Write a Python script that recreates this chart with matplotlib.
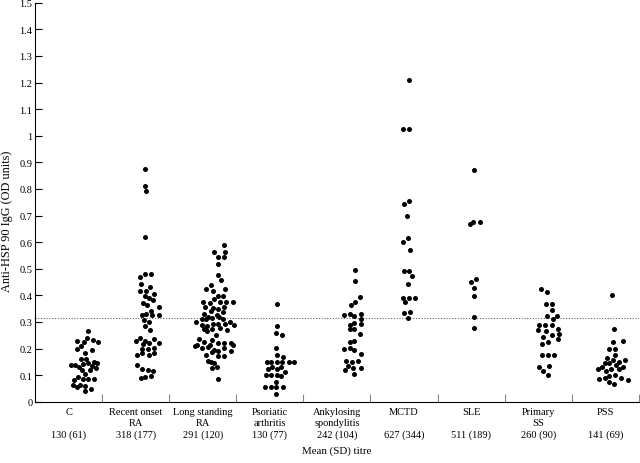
import matplotlib.pyplot as plt
import numpy as np

categories = ["C", "Recent onset\nRA", "Long standing\nRA", "Psoriatic\narthritis",
              "Ankylosing\nspondylitis", "MCTD", "SLE", "Primary\nSS", "PSS"]
titres = ["130 (61)", "318 (177)", "291 (120)", "130 (77)", "242 (104)",
          "627 (344)", "511 (189)", "260 (90)", "141 (69)"]
cutoff = 0.315

# each group: sideways offset of a dot (in category widths) and its OD value
c_dx = [.29, .27, .13, .23, .36, .44, .19, .13, .35, .25, .18, .26, .37, .03, .10, .21, .29, .42,
        .15, .35, .20, .31, .40, .25, .14, .08, .22, .29, .37, .06, .17, .25, .13, .33, .25]
c_y = [.265, .238, .228, .225, .231, .225, .210, .197, .195, .185, .160, .160, .151, .137, .137,
       .142, .144, .144, .132, .135, .120, .120, .125, .104, .092, .082, .085, .085, .086, .064,
       .064, .061, .054, .047, .039]

recent_dx = [.13, .14, .15, .14, .13, .23, .06, .08, .21, .15, .07, .27, .13, .19, .11, .26,
             .16, .34, .23, .15, .09, .24, .35, .12, .20, .13, .21, .01, .06, .14, .19, .27,
             .34, .11, .10, .18, .27, .02, .10, .20, .27, .02, .09, .18, .25, .08, .14, .23]
recent_y = [.875, .810, .792, .618, .481, .481, .468, .441, .433, .418, .416, .404, .397, .390,
            .372, .381, .365, .355, .343, .328, .325, .327, .325, .306, .300, .285, .271, .228,
            .238, .228, .222, .235, .220, .218, .200, .200, .203, .177, .185, .176, .185, .137,
            .122, .121, .116, .089, .094, .096]

long_dx = [.31, .17, .33, .23, .32, .22, .22, .27, .12, .04,
           .15, .33, .23, .30, .17, .00, .10, .25, .34, .45,
           .03, .15, .22, .32, .12, .30, .02, .21, .08, .24,
           -.01, .05, .14, .30, -.10, -.01, .06, .15, .23, .33,
           .40, .47, .01, .06, .14, .26, .36, .19, -.05, .02,
           .13, .22, .32, .42, -.11, -.08, -.01, .07, .10, .16,
           .22, .32, .45, .42, .05, .14, .23, .32, .07, .12,
           .17, .21, .14, .22]
long_y = [.590, .562, .562, .544, .544, .517, .477, .459, .438, .422,
          .417, .422, .397, .397, .385, .375, .372, .376, .375, .376,
          .356, .352, .350, .355, .340, .337, .328, .327, .318, .320,
          .310, .310, .313, .312, .298, .290, .286, .291, .293, .293,
          .301, .288, .275, .266, .272, .278, .270, .252, .237, .226,
          .231, .222, .220, .220, .210, .213, .201, .207, .215, .196,
          .191, .201, .212, .190, .175, .187, .172, .172, .152, .150,
          .146, .130, .125, .085]

psor_dx = [.10, .10, .09, .18, .09, .10, .19, -.04, .02, .10, .18, .29, .36, -.03, .03, .10,
           .17, .22, -.06, .01, .10, .17, .09, -.08, .01, .09, .19, .09]
psor_y = [.367, .285, .258, .250, .201, .176, .170, .151, .151, .151, .150, .151, .151, .122,
          .130, .122, .130, .111, .101, .102, .102, .096, .074, .056, .056, .056, .056, .029]

ank_dx = [.27, .27, .35, .27, .21, .10, .19, .26, .36, .36, .19, .25, .36, .19, .25, .35, .19,
          .26, .10, .19, .25, .36, .14, .22, .31, .17, .12, .24, .36, .26]
ank_y = [.496, .454, .392, .376, .363, .326, .331, .321, .331, .310, .287, .295, .291, .275,
         .275, .256, .225, .230, .200, .201, .194, .181, .154, .151, .154, .135, .120, .125,
         .125, .106]

mctd_dx = [.07, -.01, .08, .07, .00, .05, .06, -.01, .09, .00, .07, .12, .06, -.02, .07, .16,
           .01, .00, .09, .06]
mctd_y = [1.211, 1.025, 1.025, .755, .744, .700, .615, .600, .572, .492, .492, .471, .443,
          .391, .391, .391, .376, .333, .337, .316]

sle_dx = [.04, -.02, .03, .14, .08, .00, .05, .04, .04, .04]
sle_y = [.870, .667, .677, .674, .463, .449, .429, .397, .318, .278]

pss1_dx = [.04, .13, .12, .21, .21, .13, .28, .22, .01, .10, .21, .00, .11, .29, .21, .31, .07,
           .30, .06, .14, .06, .15, .23, .02, .16, .08, .14]
pss1_y = [.422, .413, .367, .368, .345, .322, .322, .311, .287, .290, .288, .268, .265, .272,
          .251, .255, .243, .235, .216, .223, .176, .176, .176, .132, .135, .115, .100]

pss_dx = [.10, .13, .12, .26, .06, .14, .15, .03, .11, .21, .30, .00, .06, .16, .27, -.11, -.05,
          .08, .21, .01, .14, .05, -.09, -.01, .23, .34, .05, .13]
pss_y = [.400, .272, .223, .228, .198, .197, .175, .164, .157, .151, .157, .145, .145, .140,
         .132, .124, .131, .124, .122, .115, .101, .095, .084, .089, .089, .082, .076, .065]

groups = [(c_dx, c_y), (recent_dx, recent_y), (long_dx, long_y), (psor_dx, psor_y),
          (ank_dx, ank_y), (mctd_dx, mctd_y), (sle_dx, sle_y), (pss1_dx, pss1_y),
          (pss_dx, pss_y)]

plt.rcParams["font.family"] = "Liberation Serif"
plt.rcParams["font.size"] = 7.5

fig = plt.figure(figsize=(6.4, 4.64), dpi=100)
ax = fig.add_axes([0.055, 0.132, 0.943, 0.86])

for i, (dx, y) in enumerate(groups):
    ax.scatter([i + d for d in dx], y, s=13, color="black", linewidths=0, zorder=3)

ax.axhline(cutoff, color="#666666", lw=0.8, ls=(0, (1, 1.5)), zorder=1)

ax.set_xlim(-0.5, 8.5)
ax.set_ylim(0, 1.5)
yt = np.round(np.arange(0, 1.51, 0.1), 1)
ax.set_yticks(yt)
ax.set_yticklabels([f"{v:g}" for v in yt])

labels = []
for cat, t in zip(categories, titres):
    if "\n" not in cat:
        cat = cat + "\n"
    labels.append(cat + "\n" + t)
ax.set_xticks(range(len(categories)))
ax.set_xticklabels(labels, linespacing=1.28)
ax.set_xticks(np.arange(len(categories)) + 0.5, minor=True)

ax.tick_params(axis="x", which="major", length=0, pad=4)
ax.tick_params(axis="x", which="minor", direction="in", length=5.5, width=0.8, color="#888888")
ax.tick_params(axis="y", direction="in", length=5, width=0.8, pad=2)

for side in ["top", "right"]:
    ax.spines[side].set_visible(False)
for side in ["left", "bottom"]:
    ax.spines[side].set_linewidth(0.8)

ax.set_ylabel("Anti-HSP 90 IgG (OD units)", fontsize=8.8, va="center")
ax.yaxis.set_label_coords(-0.0475, 0.455)
ax.set_xlabel("Mean (SD) titre", fontsize=7.8, labelpad=5)

fig.savefig("out.png", dpi=100)
